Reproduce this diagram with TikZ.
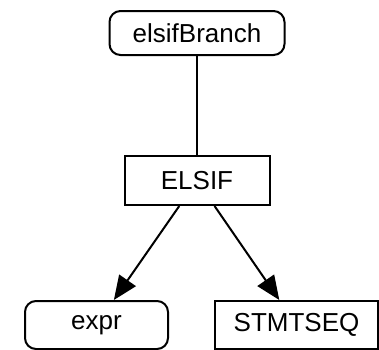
\documentclass[tikz,border=0pt]{standalone}
\usepackage{fontspec}
\setmainfont{Liberation Sans}
\usetikzlibrary{positioning}
\usetikzlibrary{arrows.meta}
\tikzset{%
  edgearrow/.style = {-{Triangle[length=24pt,width=20pt]},line width=2pt},
  plainedge/.style = {line width=2pt},
  rn/.style = {rectangle,rounded corners=11pt,draw,line width=2pt,
        minimum height=44pt,inner sep=0pt},
  r/.style = {rectangle,draw,line width=2pt,
        minimum height=48pt,inner sep=0pt}
}
\begin{document}
\begin{tikzpicture}[node distance=94pt]\fontsize{26}{31}\selectfont
                    \useasboundingbox (0pt,0pt) rectangle (379pt,-349pt);
                    \node[rn,minimum width=175pt] (branch) at (197pt,-33pt) {elsifBranch};
                    \node[r,minimum width=145pt,minimum height=49pt] (elsif) [below=99pt of branch] {ELSIF};
                    \node[rn,minimum width=143pt,minimum height=48pt] (expr) [below=of elsif,xshift=-100.5pt] {expr};
                    \node[r,minimum width=163pt] (stmtseq) [below=of elsif,xshift=99.5pt] {STMTSEQ};

                    \draw[plainedge] (branch) -- (elsif);
                    \draw[edgearrow] (elsif) -- (expr);
                    \draw[edgearrow] (elsif) -- (stmtseq);
                 \end{tikzpicture}
\end{document}
